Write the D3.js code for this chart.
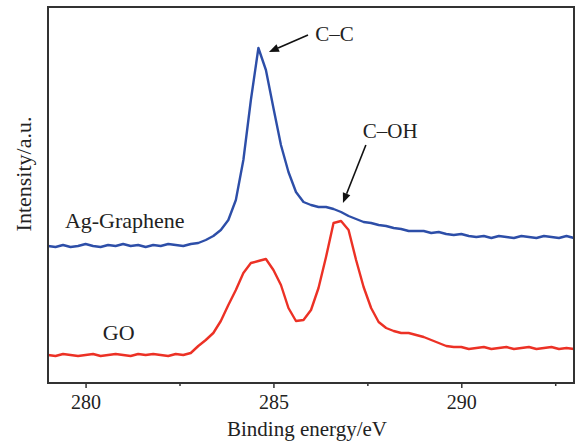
<!DOCTYPE html>
<html>
<head>
<meta charset="utf-8">
<script src="https://cdn.jsdelivr.net/npm/d3@7"></script>
<style>
  body { margin: 0; background: #fff; }
  text { font-family: "Liberation Serif", "Times New Roman", serif; fill: #222; }
</style>
</head>
<body>
<svg id="chart"></svg>
<script>
// binding energy grid (eV)
var energy = [279.0, 279.2, 279.4, 279.6, 279.8, 280.0, 280.2, 280.4, 280.6, 280.8,
  281.0, 281.2, 281.4, 281.6, 281.8, 282.0, 282.2, 282.4, 282.6, 282.8,
  283.0, 283.2, 283.4, 283.6, 283.8, 284.0, 284.2, 284.4, 284.6, 284.8,
  285.0, 285.2, 285.4, 285.6, 285.8, 286.0, 286.2, 286.4, 286.6, 286.8,
  287.0, 287.2, 287.4, 287.6, 287.8, 288.0, 288.2, 288.4, 288.6, 288.8,
  289.0, 289.2, 289.4, 289.6, 289.8, 290.0, 290.2, 290.4, 290.6, 290.8,
  291.0, 291.2, 291.4, 291.6, 291.8, 292.0, 292.2, 292.4, 292.6, 292.8, 293.0];

// Ag-Graphene intensity (a.u., offset curve)
var agGraphene = [137, 136, 138, 136, 137, 139, 137, 136, 138, 137,
  139, 137, 138, 136, 138, 137, 139, 138, 137, 139,
  140, 143, 147, 153, 163, 183, 223, 283, 335, 313,
  275, 238, 211, 191, 181, 178, 176, 176, 174, 171,
  167, 164, 161, 160, 158, 157, 155, 154, 152, 152,
  152, 150, 151, 149, 148, 149, 147, 146, 147, 145,
  147, 146, 145, 147, 146, 145, 147, 146, 145, 147, 145];

// GO intensity (a.u.)
var go = [28, 27, 29, 28, 27, 28, 29, 27, 28, 29,
  28, 27, 29, 28, 29, 28, 27, 29, 28, 30,
  37, 43, 50, 62, 78, 93, 110, 120, 122, 124,
  113, 98, 75, 62, 63, 73, 95, 126, 160, 162,
  153, 123, 96, 75, 61, 55, 52, 50, 50, 48,
  46, 43, 40, 37, 36, 36, 34, 35, 36, 34,
  35, 36, 34, 35, 36, 34, 35, 36, 34, 35, 34];

var xTicks = [280, 282.5, 285, 287.5, 290, 292.5];

// series labels and peak annotations, in data units
var seriesLabels = [
  { name: 'Ag-Graphene', e: 279.45, v: 155 },
  { name: 'GO', e: 280.46, v: 43 }
];
var peakNotes = [
  { name: 'C\u2013C', e: 286.11, v: 342, tailE: 285.92, tailV: 348, tipE: 284.88, tipV: 331 },
  { name: 'C\u2013OH', e: 287.38, v: 245, tailE: 287.46, tailV: 238, tipE: 286.85, tipV: 180 }
];

var width = 576, height = 444;
var margin = { top: 7, right: 2, bottom: 61, left: 48 };

var svg = d3.select('#chart')
  .attr('width', width)
  .attr('height', height);

var x = d3.scaleLinear()
  .domain([279, 293])
  .range([margin.left, width - margin.right]);

var y = d3.scaleLinear()
  .domain([0, 376])
  .range([height - margin.bottom, margin.top]);

// 坐标轴
var axis = svg.append('g')
  .attr('transform', 'translate(0,' + (height - margin.bottom) + ')')
  .call(d3.axisBottom(x)
    .tickValues(xTicks)
    .tickSizeOuter(0)
    .tickSize(5)
    .tickPadding(7)
    .tickFormat(function(d) { return d % 5 === 0 ? d : ''; }));
axis.select('.domain').remove();
axis.selectAll('.tick line')
  .attr('stroke', '#333')
  .attr('stroke-width', 1.5)
  .attr('y2', function(d) { return d % 5 === 0 ? 5 : 3; });
axis.selectAll('.tick text')
  .attr('font-size', 20)
  .attr('font-family', '"Liberation Serif", serif')
  .attr('fill', '#222');

// 曲线
var line = d3.line()
  .x(function(d) { return x(d[0]); })
  .y(function(d) { return y(d[1]); });

svg.append('path')
  .datum(d3.zip(energy, go))
  .attr('fill', 'none')
  .attr('stroke', '#ec3125')
  .attr('stroke-width', 2.4)
  .attr('stroke-linejoin', 'round')
  .attr('d', line);

svg.append('path')
  .datum(d3.zip(energy, agGraphene))
  .attr('fill', 'none')
  .attr('stroke', '#2d4ea8')
  .attr('stroke-width', 2.4)
  .attr('stroke-linejoin', 'round')
  .attr('d', line);

// 边框
svg.append('rect')
  .attr('x', margin.left)
  .attr('y', margin.top)
  .attr('width', width - margin.left - margin.right)
  .attr('height', height - margin.top - margin.bottom)
  .attr('fill', 'none')
  .attr('stroke', '#333')
  .attr('stroke-width', 2);

// 轴标题
svg.append('text')
  .attr('x', 307)
  .attr('y', 436)
  .attr('text-anchor', 'middle')
  .attr('font-size', 21)
  .text('Binding energy/eV');

svg.append('text')
  .attr('transform', 'translate(31,' + 174 + ') rotate(-90)')
  .attr('text-anchor', 'middle')
  .attr('font-size', 22)
  .text('Intensity/a.u.');

// 曲线标签
svg.selectAll('.series-label')
  .data(seriesLabels)
  .enter()
  .append('text')
  .attr('class', 'series-label')
  .attr('x', function(d) { return x(d.e); })
  .attr('y', function(d) { return y(d.v); })
  .attr('font-size', 22)
  .text(function(d) { return d.name; });

// 峰注释
var notes = svg.selectAll('.note')
  .data(peakNotes)
  .enter()
  .append('g')
  .attr('class', 'note');

notes.append('text')
  .attr('x', function(d) { return x(d.e); })
  .attr('y', function(d) { return y(d.v); })
  .attr('font-size', 21)
  .text(function(d) { return d.name; });

notes.each(function(d) {
  var x0 = x(d.tailE), y0 = y(d.tailV), x1 = x(d.tipE), y1 = y(d.tipV);
  var a = Math.atan2(y1 - y0, x1 - x0);
  var len = 10, half = 4;
  var bx = x1 - len * Math.cos(a), by = y1 - len * Math.sin(a);
  var g = d3.select(this);
  g.append('line')
    .attr('x1', x0).attr('y1', y0)
    .attr('x2', bx).attr('y2', by)
    .attr('stroke', '#111')
    .attr('stroke-width', 1.6);
  g.append('path')
    .attr('d', 'M' + x1 + ',' + y1 +
      'L' + (bx + half * Math.sin(a)) + ',' + (by - half * Math.cos(a)) +
      'L' + (bx - half * Math.sin(a)) + ',' + (by + half * Math.cos(a)) + 'Z')
    .attr('fill', '#111');
});
</script>
</body>
</html>
